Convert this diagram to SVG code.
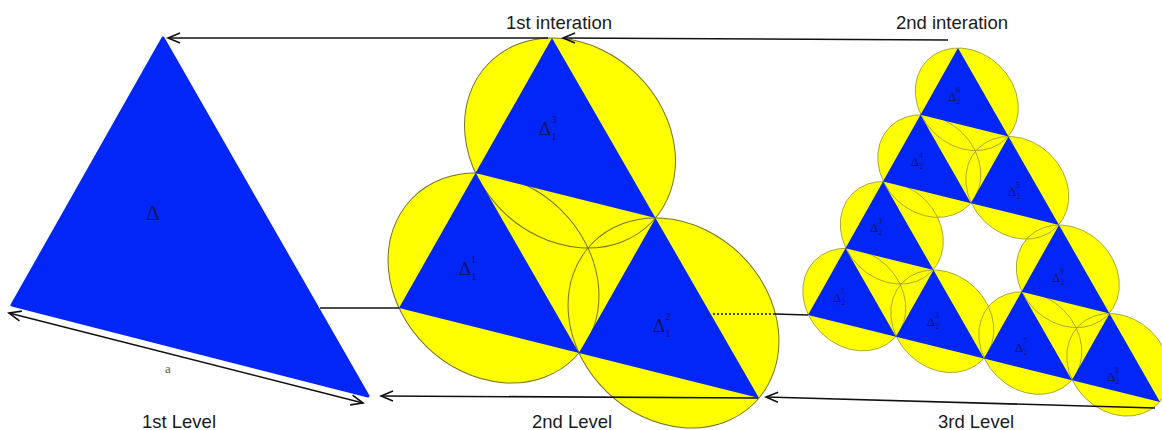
<svg xmlns="http://www.w3.org/2000/svg" width="1162" height="430" viewBox="0 0 1162 430">
<style>
.tri{fill:#0326f8}
.ef{fill:#ffff00;stroke:none}
.eo{fill:none;stroke:#74742a;stroke-width:1}
.eo2{fill:none;stroke:#9a9a3a;stroke-width:0.8}
.title{font-family:"Liberation Sans",Arial,sans-serif;font-size:18.5px;fill:#1a1a1a;text-anchor:middle}
.lab{font-family:"Liberation Serif","Times New Roman",serif;fill:#14145a}
.conn{fill:none;stroke:#111;stroke-width:1.6}
</style>
<defs>
<marker id="ah" viewBox="-14 -7 16 14" refX="0" refY="0" markerWidth="16" markerHeight="14" markerUnits="userSpaceOnUse" orient="auto-start-reverse">
<path d="M-12,-5 L0,0 L-12,5" fill="none" stroke="#111" stroke-width="1.6"/>
</marker>
<ellipse id="eL" cx="0" cy="0" rx="113.8" ry="95.9" transform="rotate(44.3)"/>
<ellipse id="eS" cx="0" cy="0" rx="55.6" ry="46.9" transform="rotate(44.3)"/>
</defs>

<g id="level1">
<polygon class="tri" points="163,38 12,305 368,396" stroke="#0326f8" stroke-width="3" stroke-linejoin="round"/>
<text class="lab" x="146" y="220" font-size="22">Δ</text>
</g>

<g id="level2">
<use href="#eL" class="ef" x="570" y="143"/>
<use href="#eL" class="ef" x="673.5" y="323"/>
<use href="#eL" class="ef" x="493.5" y="278"/>
<use href="#eL" class="eo" x="570" y="143"/>
<use href="#eL" class="eo" x="673.5" y="323"/>
<use href="#eL" class="eo" x="493.5" y="278"/>
<polygon class="tri" points="399,308 579,353 475.5,173"/>
<polygon class="tri" points="579,353 759,398 655.5,218"/>
<polygon class="tri" points="475.5,173 655.5,218 552,38"/>
<text class="lab" x="539" y="135" font-size="19">Δ<tspan font-size="11" dy="5">1</tspan><tspan font-size="11" dx="-5.5" dy="-17">3</tspan></text>
<text class="lab" x="459" y="275" font-size="19">Δ<tspan font-size="11" dy="5">1</tspan><tspan font-size="11" dx="-5.5" dy="-17">1</tspan></text>
<text class="lab" x="653" y="332" font-size="19">Δ<tspan font-size="11" dy="5">1</tspan><tspan font-size="11" dx="-5.5" dy="-17">2</tspan></text>
</g>

<g id="level3">
<g class="ef">
<use href="#eS" x="854.3" y="299.6"/>
<use href="#eS" x="942.3" y="321.3"/>
<use href="#eS" x="891.8" y="232.8"/>
<use href="#eS" x="1030.3" y="343.1"/>
<use href="#eS" x="1118.3" y="364.8"/>
<use href="#eS" x="1067.8" y="276.3"/>
<use href="#eS" x="929.3" y="166.1"/>
<use href="#eS" x="1017.3" y="187.8"/>
<use href="#eS" x="966.8" y="99.3"/>
</g>
<g class="eo2">
<use href="#eS" x="854.3" y="299.6"/>
<use href="#eS" x="942.3" y="321.3"/>
<use href="#eS" x="891.8" y="232.8"/>
<use href="#eS" x="1030.3" y="343.1"/>
<use href="#eS" x="1118.3" y="364.8"/>
<use href="#eS" x="1067.8" y="276.3"/>
<use href="#eS" x="929.3" y="166.1"/>
<use href="#eS" x="1017.3" y="187.8"/>
<use href="#eS" x="966.8" y="99.3"/>
</g>
<g class="tri">
<polygon points="808,315 896,336.75 845.5,248.26"/>
<polygon points="896,336.75 984,358.5 933.5,270"/>
<polygon points="845.5,248.26 933.5,270 883,181.5"/>
<polygon points="984,358.5 1072,380.25 1021.5,291.75"/>
<polygon points="1072,380.25 1160,402 1109.5,313.5"/>
<polygon points="1021.5,291.75 1109.5,313.5 1059,225"/>
<polygon points="883,181.5 971,203.25 920.5,114.8"/>
<polygon points="971,203.25 1059,225 1008.5,136.5"/>
<polygon points="920.5,114.8 1008.5,136.5 958,48"/>
</g>
<g class="lab" font-size="13">
<text x="948" y="101">Δ<tspan font-size="7.5" dy="3">2</tspan><tspan font-size="7.5" dx="-3.8" dy="-11">6</tspan></text>
<text x="911" y="166">Δ<tspan font-size="7.5" dy="3">2</tspan><tspan font-size="7.5" dx="-3.8" dy="-11">4</tspan></text>
<text x="1008" y="196">Δ<tspan font-size="7.5" dy="3">2</tspan><tspan font-size="7.5" dx="-3.8" dy="-11">5</tspan></text>
<text x="870" y="232">Δ<tspan font-size="7.5" dy="3">2</tspan><tspan font-size="7.5" dx="-3.8" dy="-11">3</tspan></text>
<text x="1052" y="282">Δ<tspan font-size="7.5" dy="3">2</tspan><tspan font-size="7.5" dx="-3.8" dy="-11">9</tspan></text>
<text x="833" y="302">Δ<tspan font-size="7.5" dy="3">2</tspan><tspan font-size="7.5" dx="-3.8" dy="-11">1</tspan></text>
<text x="927" y="326">Δ<tspan font-size="7.5" dy="3">2</tspan><tspan font-size="7.5" dx="-3.8" dy="-11">3</tspan></text>
<text x="1015" y="352">Δ<tspan font-size="7.5" dy="3">2</tspan><tspan font-size="7.5" dx="-3.8" dy="-11">7</tspan></text>
<text x="1107" y="381">Δ<tspan font-size="7.5" dy="3">2</tspan><tspan font-size="7.5" dx="-3.8" dy="-11">8</tspan></text>
</g>
</g>

<g id="connectors">
<path class="conn" d="M548,38 L168,38" marker-end="url(#ah)"/>
<path class="conn" d="M948,40 L563,38" marker-end="url(#ah)"/>
<path class="conn" d="M758,398 L381,396" marker-end="url(#ah)"/>
<path class="conn" d="M1155,408 L766,397" marker-end="url(#ah)"/>
<path class="conn" d="M320,308 L399,308"/>
<path class="conn" d="M713,314 L775,314" stroke-dasharray="2 2" stroke-width="1.3"/>
<path class="conn" d="M775,314 L808,315"/>
<path class="conn" d="M9,313 L363,403" marker-start="url(#ah)" marker-end="url(#ah)"/>
</g>

<g id="labels">
<text x="168" y="373" font-family="'Liberation Serif','Times New Roman',serif" font-size="13" fill="#555" text-anchor="middle">a</text>
<text class="title" x="559" y="29">1st interation</text>
<text class="title" x="952" y="29">2nd interation</text>
<text class="title" x="179" y="428">1st Level</text>
<text class="title" x="572" y="428">2nd Level</text>
<text class="title" x="976" y="428">3rd Level</text>
</g>
</svg>
